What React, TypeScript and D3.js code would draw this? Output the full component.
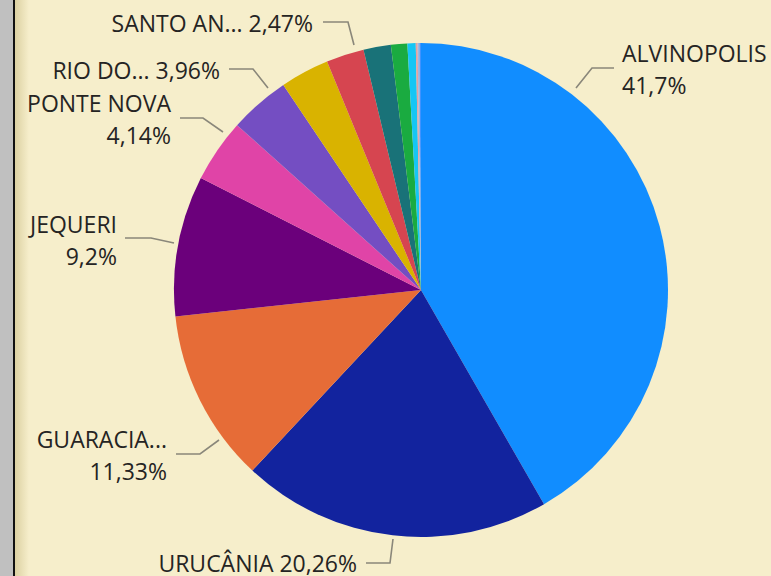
import React from "react";
import * as d3 from "d3";

const categories = [
  "ALVINOPOLIS",
  "URUCÂNIA",
  "GUARACIABA",
  "JEQUERI",
  "PONTE NOVA",
  "RIO DOCE",
  "SEM-PEIXE",
  "SANTO ANTÔNIO DO GRAMA",
  "ORATÓRIOS",
  "ACAIACA",
  "BARRA LONGA",
  "DOM SILVÉRIO",
  "PIRANGA",
  "OUTROS",
];
const values = [41.7, 20.26, 11.33, 9.2, 4.14, 3.96, 3.2, 2.47, 1.79, 1.07, 0.54, 0.12, 0.12, 0.1];
const colors = [
  "#118DFF", "#12239E", "#E66C37", "#6B007B", "#E044A7", "#744EC2", "#D9B300",
  "#D64550", "#197278", "#1AAB40", "#15C6F4", "#E8A0A0", "#9FB8E0", "#4092FF",
];
const labelLines = [
  ["ALVINOPOLIS", "41,7%"],
  ["URUCÂNIA 20,26%"],
  ["GUARACIA...", "11,33%"],
  ["JEQUERI", "9,2%"],
  ["PONTE NOVA", "4,14%"],
  ["RIO DO... 3,96%"],
  [],
  ["SANTO AN... 2,47%"],
];

// label layout (annotation placement)
type Layout = { anchor: "start" | "end"; x: number; y: number; pts: [number, number][] };
const layouts: (Layout | null)[] = [
  { anchor: "start", x: 622, y: 62, pts: [[576, 88], [592, 68], [614, 68]] },
  { anchor: "end", x: 357, y: 572, pts: [[393, 539], [390, 563], [366, 563]] },
  { anchor: "end", x: 167, y: 448, pts: [[219, 440], [200, 454], [176, 454]] },
  { anchor: "end", x: 117, y: 233, pts: [[174, 243], [151, 238], [125, 238]] },
  { anchor: "end", x: 171, y: 112, pts: [[223, 132], [203, 118], [180, 118]] },
  { anchor: "end", x: 220, y: 79, pts: [[268, 88], [253, 69], [229, 69]] },
  null,
  { anchor: "end", x: 313, y: 32, pts: [[354, 45], [348, 22], [323, 22]] },
];

const W = 771;
const H = 576;
const cx = 421;
const cy = 290;
const R = 247;

export default function App() {
  const pie = d3
    .pie<number>()
    .sort(null)
    .value((d) => d);
  const arcs = pie(values);
  const arc = d3.arc<d3.PieArcDatum<number>>().innerRadius(0).outerRadius(R);
  const line = d3.line();

  return (
    <div style={{ position: "fixed", left: 0, top: 0, width: W, height: H }}>
      <svg width={W} height={H} style={{ display: "block" }}>
        <defs>
          <linearGradient id="shade" x1="0" x2="1" y1="0" y2="0">
            <stop offset="0" stopColor="#DCD1A2" />
            <stop offset="1" stopColor="#F6EECB" />
          </linearGradient>
        </defs>
        <rect x={0} y={0} width={W} height={H} fill="#F6EECB" />
        <rect x={0} y={0} width={13} height={H} fill="#C0C0C0" />
        <rect x={13} y={0} width={2} height={H} fill="#111" />
        <rect x={15} y={0} width={14} height={H} fill="url(#shade)" />
        <g transform={`translate(${cx},${cy})`}>
          {arcs.map((a, i) => (
            <path key={categories[i]} d={arc(a) || ""} fill={colors[i]} />
          ))}
        </g>
        <g
          fontFamily="'Open Sans', 'Noto Sans', sans-serif"
          fontSize={23}
          fill="#252423"
        >
          {layouts.map((l, i) =>
            l ? (
              <g key={i}>
                <path
                  d={line(l.pts) || ""}
                  fill="none"
                  stroke="#8A877A"
                  strokeWidth={1.6}
                />
                {labelLines[i].map((t, j) => (
                  <text key={j} x={l.x} y={l.y + j * 32} textAnchor={l.anchor}>
                    {t}
                  </text>
                ))}
              </g>
            ) : null
          )}
        </g>
      </svg>
    </div>
  );
}
